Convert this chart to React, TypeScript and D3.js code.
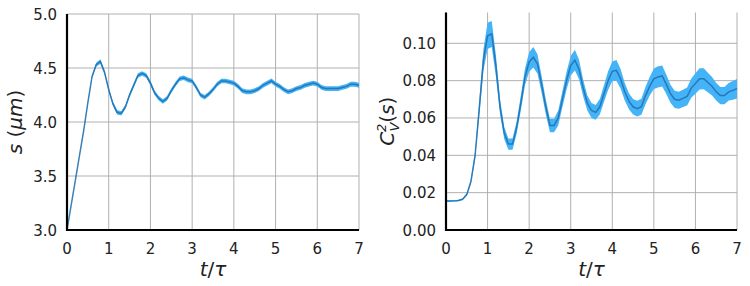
import React from "react";
import * as d3 from "d3";

const tGrid = d3.range(0, 71).map((i) => i / 10);

const sMean = [
  3.0, 3.23, 3.46, 3.69, 3.92, 4.18, 4.42, 4.53, 4.56, 4.46,
  4.3, 4.17, 4.09, 4.08, 4.14, 4.25, 4.34, 4.43, 4.45, 4.43,
  4.36, 4.27, 4.22, 4.19, 4.22, 4.29, 4.35, 4.4, 4.41, 4.39,
  4.38, 4.32, 4.25, 4.23, 4.26, 4.3, 4.35, 4.38, 4.38, 4.37,
  4.36, 4.33, 4.29, 4.28, 4.28, 4.29, 4.31, 4.34, 4.36, 4.38,
  4.35, 4.33, 4.3, 4.28, 4.29, 4.31, 4.32, 4.34, 4.35, 4.36,
  4.35, 4.32, 4.31, 4.31, 4.31, 4.31, 4.32, 4.33, 4.35, 4.35,
  4.34,
];
const sErr = [
  0.004, 0.005, 0.007, 0.008, 0.01, 0.012, 0.015, 0.018, 0.02, 0.02,
  0.02, 0.02, 0.02, 0.02, 0.02, 0.02, 0.02, 0.021, 0.021, 0.021,
  0.021, 0.021, 0.021, 0.021, 0.021, 0.021, 0.021, 0.021, 0.021, 0.021,
  0.021, 0.021, 0.021, 0.021, 0.021, 0.021, 0.021, 0.021, 0.021, 0.021,
  0.022, 0.022, 0.022, 0.022, 0.022, 0.022, 0.022, 0.022, 0.022, 0.022,
  0.022, 0.022, 0.022, 0.022, 0.022, 0.022, 0.022, 0.022, 0.022, 0.022,
  0.022, 0.022, 0.022, 0.022, 0.022, 0.022, 0.022, 0.023, 0.023, 0.023,
  0.023,
];

const cMean = [
  0.0155, 0.0155, 0.0156, 0.0158, 0.0165, 0.019, 0.026, 0.04, 0.065, 0.091,
  0.104, 0.105, 0.088, 0.066, 0.052, 0.046, 0.046, 0.055, 0.068, 0.082,
  0.09, 0.0925, 0.089, 0.078, 0.066, 0.056, 0.056, 0.06, 0.07, 0.08,
  0.088, 0.091, 0.086, 0.076, 0.068, 0.064, 0.063, 0.066, 0.073, 0.08,
  0.085, 0.0855, 0.081, 0.074, 0.069, 0.066, 0.065, 0.066, 0.072, 0.077,
  0.081, 0.082, 0.0825, 0.078, 0.073, 0.07, 0.0695, 0.0705, 0.0715, 0.076,
  0.0785, 0.081, 0.081, 0.079, 0.077, 0.074, 0.072, 0.072, 0.074, 0.0748,
  0.0757,
];
const cErr = [
  0.0004, 0.0004, 0.0004, 0.0004, 0.0005, 0.0007, 0.001, 0.002, 0.0038, 0.0058,
  0.007, 0.007, 0.0058, 0.004, 0.0033, 0.003, 0.003, 0.0033, 0.004, 0.0045,
  0.0052, 0.0055, 0.0052, 0.0045, 0.004, 0.0036, 0.0036, 0.004, 0.0043, 0.0047,
  0.0052, 0.0055, 0.0052, 0.0045, 0.004, 0.004, 0.004, 0.0042, 0.0045, 0.005,
  0.0052, 0.0055, 0.0052, 0.0047, 0.0043, 0.0042, 0.0042, 0.0043, 0.0047, 0.005,
  0.0055, 0.0057, 0.0056, 0.0052, 0.0048, 0.0046, 0.0046, 0.0046, 0.0048, 0.0052,
  0.0055, 0.0057, 0.0056, 0.0052, 0.005, 0.0047, 0.0046, 0.0046, 0.0047, 0.005,
  0.0052,
];

const xTicks = [0, 1, 2, 3, 4, 5, 6, 7];
const sTicks = [3.0, 3.5, 4.0, 4.5, 5.0];
const cTicks = [0.0, 0.02, 0.04, 0.06, 0.08, 0.1];

const FONT = "DejaVu Sans, sans-serif";
const BAND = "#45b3f7";
const LINE = "#1f6fae";

type PanelProps = {
  left: number;
  right: number;
  top: number;
  bottom: number;
  yDomain: [number, number];
  yTicks: number[];
  fmt: (v: number) => string;
  mean: number[];
  err: number[];
  ylabel: React.ReactNode;
  ylabelX: number;
};

function Panel(p: PanelProps) {
  const x = d3.scaleLinear().domain([0, 7]).range([p.left, p.right]);
  const y = d3.scaleLinear().domain(p.yDomain).range([p.bottom, p.top]);
  const pts = tGrid.map((t, i) => ({ t, m: p.mean[i], e: p.err[i] }));
  const area = d3
    .area<{ t: number; m: number; e: number }>()
    .x((d) => x(d.t))
    .y0((d) => y(d.m - d.e))
    .y1((d) => y(d.m + d.e));
  const line = d3
    .line<{ t: number; m: number; e: number }>()
    .x((d) => x(d.t))
    .y((d) => y(d.m));
  const cy = (p.top + p.bottom) / 2;
  return (
    <g>
      {xTicks.map((t) => (
        <line key={"gx" + t} x1={x(t)} x2={x(t)} y1={p.top} y2={p.bottom} stroke="#b0b0b0" strokeWidth={1} />
      ))}
      {p.yTicks.map((v) => (
        <line key={"gy" + v} x1={p.left} x2={p.right} y1={y(v)} y2={y(v)} stroke="#b0b0b0" strokeWidth={1} />
      ))}
      <path d={area(pts) || ""} fill={BAND} stroke="none" />
      <path d={line(pts) || ""} fill="none" stroke={LINE} strokeWidth={1.5} strokeOpacity={0.85} />
      <line x1={p.left} x2={p.left} y1={p.top} y2={p.bottom + 1} stroke="#000" strokeWidth={2.2} />
      <line x1={p.left - 1} x2={p.right} y1={p.bottom} y2={p.bottom} stroke="#000" strokeWidth={2.2} />
      {xTicks.map((t) => (
        <text key={"tx" + t} x={x(t)} y={p.bottom + 24} textAnchor="middle" fontFamily={FONT} fontSize={15} fill="#222">
          {t}
        </text>
      ))}
      {p.yTicks.map((v) => (
        <text key={"ty" + v} x={p.left - 10} y={y(v) + 5.5} textAnchor="end" fontFamily={FONT} fontSize={15} fill="#222">
          {p.fmt(v)}
        </text>
      ))}
      <text x={(p.left + p.right) / 2} y={p.bottom + 46} textAnchor="middle" fontFamily={FONT} fontSize={20} fill="#222">
        <tspan fontStyle="oblique">t</tspan>
        <tspan>/</tspan>
        <tspan fontStyle="oblique">τ</tspan>
      </text>
      <g transform={`translate(${p.ylabelX},${cy}) rotate(-90)`}>{p.ylabel}</g>
    </g>
  );
}

export default function App() {
  return (
    <svg width={750} height={286} style={{ position: "absolute", left: 0, top: 0 }}>
      <rect width={750} height={286} fill="#fff" />
      <Panel
        left={67}
        right={359}
        top={14}
        bottom={230}
        yDomain={[3.0, 5.0]}
        yTicks={sTicks}
        fmt={(v) => v.toFixed(1)}
        mean={sMean}
        err={sErr}
        ylabelX={22}
        ylabel={
          <text textAnchor="middle" fontFamily={FONT} fontSize={20} fill="#222">
            <tspan fontStyle="oblique">s</tspan>
            <tspan> (</tspan>
            <tspan fontStyle="oblique">μm</tspan>
            <tspan>)</tspan>
          </text>
        }
      />
      <Panel
        left={446}
        right={737}
        top={12.5}
        bottom={230}
        yDomain={[0, 0.1165]}
        yTicks={cTicks}
        fmt={(v) => v.toFixed(2)}
        mean={cMean}
        err={cErr}
        ylabelX={394}
        ylabel={
          <text textAnchor="middle" fontFamily={FONT} fontSize={20} fill="#222">
            <tspan fontStyle="oblique">C</tspan>
            <tspan fontStyle="oblique" fontSize={13} dy={-8}>2</tspan>
            <tspan fontStyle="oblique" fontSize={13} dx={-8} dy={13}>V</tspan>
            <tspan dy={-5}>(</tspan>
            <tspan fontStyle="oblique">s</tspan>
            <tspan>)</tspan>
          </text>
        }
      />
    </svg>
  );
}
